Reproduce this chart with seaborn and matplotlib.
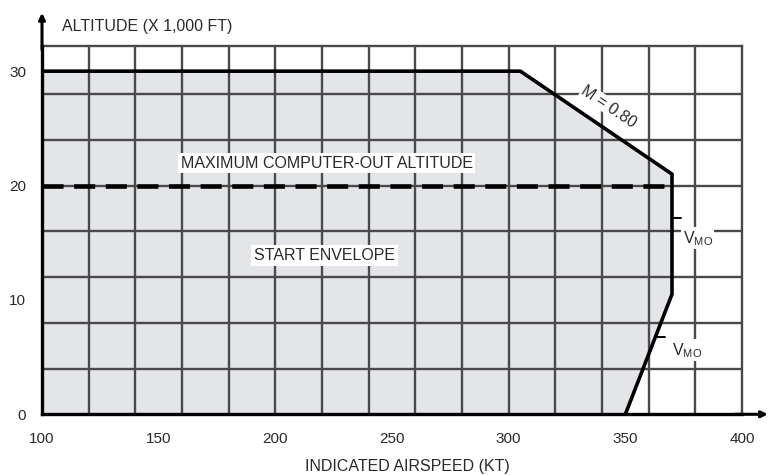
import numpy as np
import matplotlib
matplotlib.use("Agg")
import matplotlib.pyplot as plt
import pandas as pd
import seaborn as sns

# --- datos del gráfico ---
env_speed = [100, 100, 305, 370, 370, 350]    # kt
env_alt = [0, 30, 30, 21, 10.5, 0]            # x 1000 ft
computer_out_speed = [100, 370]
computer_out_alt = [20, 20]
x_ticks = [100, 150, 200, 250, 300, 350, 400]
y_ticks = [0, 10, 20, 30]

sns.set_style("white")
plt.rcParams['font.family'] = ['Liberation Sans', 'DejaVu Sans']
plt.rcParams['mathtext.default'] = 'regular'

fig = plt.figure(figsize=(7.68, 4.75), dpi=100)
ax = fig.add_axes([42/768, 1 - 414.3/475, 700/768, 368.3/475])

grid_c = '#4a4a4a'
txt_c = '#2a2a2a'

env = pd.DataFrame({'speed': env_speed, 'alt': env_alt})
ax.fill(env['speed'], env['alt'], color='#e4e5e8', zorder=1, lw=0)
sns.lineplot(data=env, x='speed', y='alt', sort=False, estimator=None,
             color='black', lw=2.6, ax=ax, zorder=4)
sns.lineplot(x=computer_out_speed, y=computer_out_alt, color='black', lw=3.3,
             ax=ax, zorder=4).lines[-1].set_dashes([4.6, 2.3])

ax.set_xlim(100, 400)
ax.set_ylim(0, 32.2)
ax.set_xticks(x_ticks)
ax.set_yticks(y_ticks)

# rejilla: cada 20 kt y cada 4000 ft
for gx in np.arange(120, 400, 20):
    ax.axvline(gx, color=grid_c, lw=1.7, zorder=1.5)
for gy in np.arange(4, 32, 4):
    ax.axhline(gy, color=grid_c, lw=1.7, zorder=1.5)

ax.tick_params(which='major', direction='out', length=8, width=1.6,
               color='black', labelcolor=txt_c, labelsize=11)
ax.tick_params(axis='x', pad=5)
ax.set_xlabel('')
ax.set_ylabel('')

for s in ['top', 'right']:
    ax.spines[s].set_color(grid_c)
    ax.spines[s].set_linewidth(1.7)
for s in ['left', 'bottom']:
    ax.spines[s].set_color('black')
    ax.spines[s].set_linewidth(2.4)
    ax.spines[s].set_zorder(5)

# flechas de los ejes
arrow = dict(arrowstyle='-|>', color='black', lw=2.2, mutation_scale=9,
             shrinkA=0, shrinkB=0)
ax.annotate('', xy=(0, 1.09), xytext=(0, 0.99), xycoords='axes fraction',
            arrowprops=arrow, annotation_clip=False)
ax.annotate('', xy=(1.037, 0), xytext=(0.99, 0), xycoords='axes fraction',
            arrowprops=arrow, annotation_clip=False)

box = dict(fc='white', ec='none', pad=2)
ax.text(222, 21.95, 'MAXIMUM COMPUTER-OUT ALTITUDE', ha='center', va='center',
        fontsize=11.5, color=txt_c, bbox=box, zorder=3)
ax.text(221, 13.9, 'START ENVELOPE', ha='center', va='center',
        fontsize=11.5, color=txt_c, bbox=box, zorder=3)
ax.text(343, 26.9, 'M = 0.80', ha='center', va='center', rotation=-34,
        rotation_mode='anchor', fontsize=11.5, color=txt_c,
        bbox=dict(fc='white', ec='none', pad=0.5), zorder=3)

# etiquetas V_MO
ax.plot([370, 374], [17.15, 17.15], color='black', lw=1.4, zorder=4)
ax.text(374.6, 15.4, 'V$_{MO}$', ha='left', va='center', fontsize=11.5,
        color=txt_c, bbox=dict(fc='white', ec='none', pad=1), zorder=3)
ax.plot([363, 367], [6.77, 6.77], color='black', lw=1.4, zorder=4)
ax.text(370, 5.6, 'V$_{MO}$', ha='left', va='center', fontsize=11.5,
        color=txt_c, bbox=dict(fc='white', ec='none', pad=1), zorder=3)

fig.text(62/768, 1 - 27/475, 'ALTITUDE (X 1,000 FT)', ha='left', va='center',
         fontsize=11.5, color=txt_c)
fig.text(407/768, 1 - 467/475, 'INDICATED AIRSPEED (KT)', ha='center',
         va='center', fontsize=11.5, color=txt_c)

fig.savefig('out.png', dpi=100)
